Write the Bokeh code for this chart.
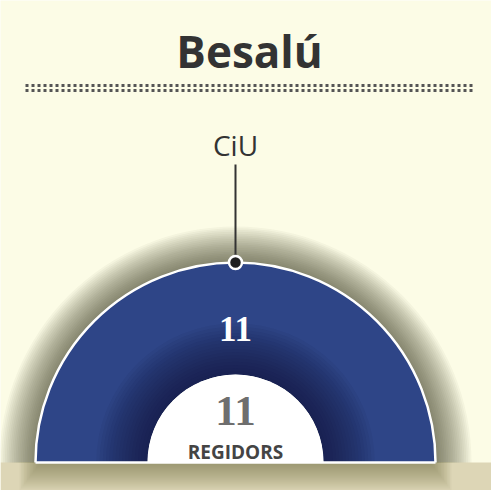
import numpy as np
from bokeh.plotting import figure
from bokeh.models import Range1d, ColumnDataSource
from bokeh.core.properties import value
from bokeh.embed import file_html
from bokeh.resources import INLINE

# ---- data ----
town = "Besalú"
parties = ["CiU"]
seats = [11]
party_colors = ["#2e4587"]
total_seats = sum(seats)
total_label = "REGIDORS"

# ---- layout constants (pixel-like units) ----
W, H = 491, 490
BG = "#fcfce6"
CX, CY = 235, 28          # centre of the hemicycle
R_OUT, R_IN = 200, 88

p = figure(width=W, height=H, x_range=Range1d(0, W), y_range=Range1d(0, H),
           output_backend="svg", toolbar_location=None, min_border=0)
p.axis.visible = False
p.grid.visible = False
p.outline_line_color = None
p.background_fill_color = BG
p.border_fill_color = BG

# bottom shadow strip
p.quad(left=0, right=W, bottom=0, top=CY, fill_color="#ddd6b6", line_color=None)
for i in range(14):
    p.quad(left=CX - R_OUT - 16 + i * 1.5, right=CX + R_OUT + 16 - i * 1.5, bottom=CY - 28 + i * 2, top=CY,
           fill_color="#5a5638", fill_alpha=0.045, line_color=None)

# outer glow/shadow around arc
for i in range(20):
    p.annular_wedge(x=CX, y=CY, inner_radius=R_OUT, outer_radius=R_OUT + 1.8 * (i + 1),
                    start_angle=0, end_angle=np.pi, fill_color="#3b3a22", fill_alpha=0.04, line_color=None)

# party wedges
frac = np.array(seats) / total_seats
ends = np.pi - np.concatenate([[0], np.cumsum(frac)[:-1]]) * np.pi
starts = ends - frac * np.pi
src = ColumnDataSource(dict(start=starts, end=ends, color=party_colors, party=parties,
                            seats=[str(s) for s in seats]))
p.annular_wedge(x=CX, y=CY, inner_radius=R_IN, outer_radius=R_OUT, start_angle="start",
                end_angle="end", fill_color="color", line_color=None, source=src)

# inner darkening gradient
for i in range(16):
    p.annular_wedge(x=CX, y=CY, inner_radius=R_IN, outer_radius=R_IN + 3.2 * (i + 1),
                    start_angle=0, end_angle=np.pi, fill_color="#100c33", fill_alpha=0.055, line_color=None)

# white outline
p.arc(x=CX, y=CY, radius=R_OUT, start_angle=0, end_angle=np.pi, line_color="white", line_width=2.5)
p.segment(x0=CX - R_OUT, y0=CY, x1=CX + R_OUT, y1=CY, line_color="white", line_width=2.5)

# inner white half disc
p.wedge(x=CX, y=CY, radius=R_IN, start_angle=0, end_angle=np.pi, fill_color="white", line_color=None)

# leader lines + markers
mid = (starts + ends) / 2
mx = CX + R_OUT * np.cos(mid)
my = CY + R_OUT * np.sin(mid)
p.segment(x0=mx, y0=my, x1=mx, y1=my + 98, line_color="#333333", line_width=2)
p.scatter(x=mx, y=my, size=13, fill_color="#1e1e1e", line_color="white", line_width=2.5)
p.text(x=mx, y=my + 118, text=parties, text_font=value("Open Sans"), text_font_size="28px",
       text_color="#333333", text_align="center", text_baseline="middle")

# seat counts inside the ring
rl = (R_IN + R_OUT) / 2 + 10
p.text(x=CX + rl * np.cos(mid), y=CY + rl * np.sin(mid) - 20, text=[str(s) for s in seats],
       text_font=value("Liberation Serif"), text_font_style="bold", text_font_size="35px",
       text_color="white", text_align="center", text_baseline="middle")

# total in the centre
p.text(x=[CX], y=[CY + 52], text=[str(total_seats)], text_font=value("Liberation Serif"),
       text_font_style="bold", text_font_size="43px", text_color="#6e6e6e",
       text_align="center", text_baseline="middle")
p.text(x=[CX], y=[CY + 11], text=[total_label], text_font=value("Open Sans"),
       text_font_style="bold", text_font_size="19px", text_color="#444444",
       text_align="center", text_baseline="middle")

# title and dotted rule
p.text(x=[CX + 14], y=[440], text=[town], text_font=value("Open Sans"), text_font_style="bold",
       text_font_size="44px", text_color="#333333", text_align="center", text_baseline="middle")
p.segment(x0=[25, 25], y0=[405, 400], x1=[472, 472], y1=[405, 400], line_color="#555555",
          line_width=3, line_dash="3 3")

html = file_html(p, INLINE)
open("out.html", "w").write(html)
